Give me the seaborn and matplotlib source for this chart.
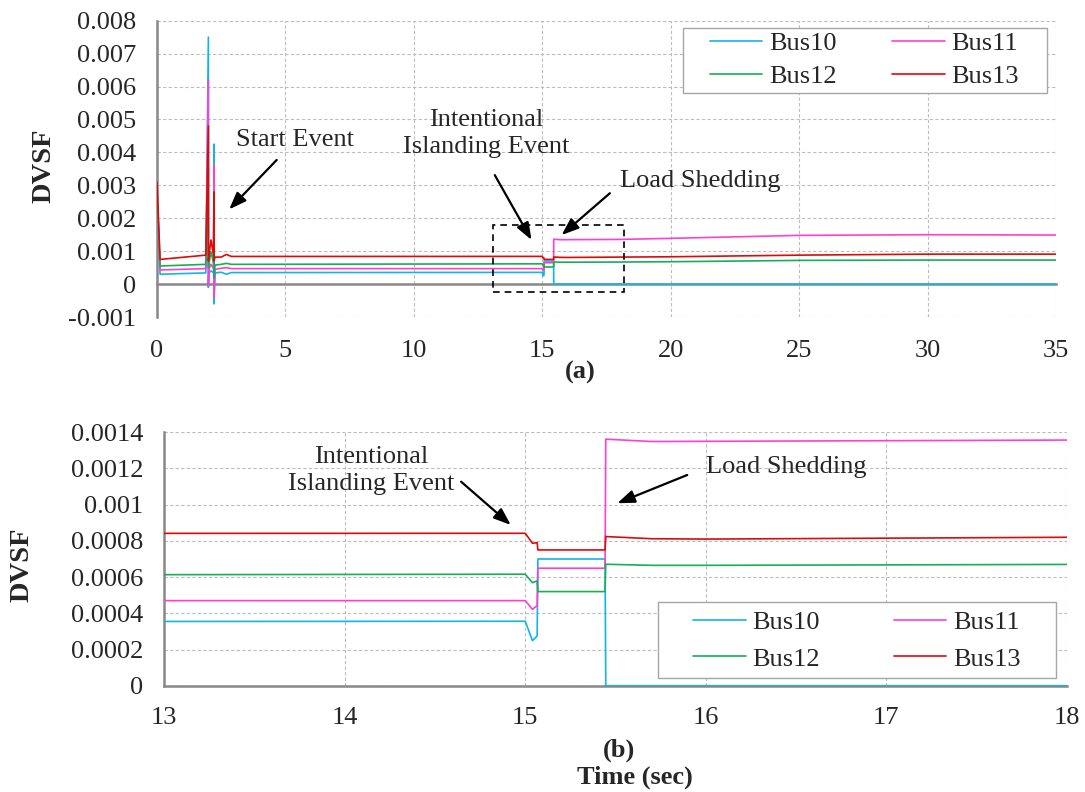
import numpy as np
import pandas as pd
import matplotlib
matplotlib.use("Agg")
import matplotlib.pyplot as plt
import matplotlib.patches as mpatches
import seaborn as sns

# DVSF of the four buses (sec, value)
time = [0.0, 0.12, 1.9, 2.0, 2.0, 2.02, 2.1, 2.2, 2.22, 2.22, 2.26, 2.5, 2.7, 2.9,
        15.0, 15.04, 15.066, 15.07, 15.442, 15.446, 15.7, 16.0, 18.0, 20.0, 25.0, 30.0, 35.0]
bus10 = [0.0025, 0.0003, 0.00034, 0.0075, -0.0001, 0.00034, 0.0004, 0.00035, 0.00425, -0.0006,
         0.00034, 0.00036, 0.0003, 0.00035, 0.000356, 0.000249, 0.000275, 0.0007, 0.0007,
         0.0, 0.0, 0.0, 0.0, 0.0, 0.0, 0.0, 0.0]
bus11 = [0.0027, 0.00043, 0.00047, 0.0062, -0.00005, 0.00045, 0.0006, 0.00048, 0.0036, -0.0004,
         0.00045, 0.00048, 0.0005, 0.00047, 0.00047, 0.000422, 0.000442, 0.000649, 0.000649,
         0.001362, 0.001349, 0.00135, 0.001357, 0.00139, 0.00148, 0.0015, 0.00149]
bus12 = [0.0029, 0.00055, 0.0006, 0.0035, 0.0005, 0.0006, 0.00098, 0.00065, 0.002, 0.0002,
         0.00058, 0.0006, 0.00063, 0.0006, 0.000616, 0.000569, 0.000579, 0.00052, 0.00052,
         0.000671, 0.000665, 0.000665, 0.00067, 0.00068, 0.00072, 0.00073, 0.00073]
bus13 = [0.0031, 0.00075, 0.00088, 0.0048, 0.0007, 0.00085, 0.00134, 0.0009, 0.0028, 0.0007,
         0.00082, 0.00082, 0.0009, 0.00084, 0.000842, 0.000787, 0.00079, 0.00075, 0.00075,
         0.000824, 0.000812, 0.00081, 0.00082, 0.00083, 0.00088, 0.00091, 0.00091]

bus_names = ["Bus10", "Bus11", "Bus12", "Bus13"]
bus_colors = ["#12B4EC", "#FF3FD2", "#17AF55", "#DE0A0A"]

top_xticks = [0, 5, 10, 15, 20, 25, 30, 35]
top_yticks = [-0.001, 0, 0.001, 0.002, 0.003, 0.004, 0.005, 0.006, 0.007, 0.008]
bot_xticks = [13, 14, 15, 16, 17, 18]
bot_yticks = [0, 0.0002, 0.0004, 0.0006, 0.0008, 0.001, 0.0012, 0.0014]

df = pd.concat(
    [pd.DataFrame({"Time": time, "DVSF": vals, "Bus": name})
     for name, vals in zip(bus_names, [bus10, bus11, bus12, bus13])],
    ignore_index=True)

sns.set_theme(style="white")
plt.rcParams["font.family"] = ["Liberation Serif", "DejaVu Serif"]

W, H = 1085, 792
fig = plt.figure(figsize=(W / 100, H / 100), dpi=100)
ax1 = fig.add_axes([0.1447, 0.5997, 0.8286, 0.3742])
ax2 = fig.add_axes([0.1512, 0.1342, 0.8322, 0.3200])

grid_kw = dict(color="#bdbdbd", linestyle=(0, (3, 2)), linewidth=0.8)
spine_col = "#888888"

for ax in (ax1, ax2):
    sns.lineplot(data=df, x="Time", y="DVSF", hue="Bus", palette=bus_colors,
                 estimator=None, sort=False, lw=1.2, ax=ax, zorder=3)
    ax.grid(True, **grid_kw)
    ax.set_axisbelow(True)
    for s in ("top", "right"):
        ax.spines[s].set_visible(False)
    for s in ("left", "bottom"):
        ax.spines[s].set_color(spine_col)
        ax.spines[s].set_linewidth(1.8)
    ax.set_xlabel("")
    ax.set_ylabel("")


def excel_legend(ax, box, center, colspace, rowspace):
    # legend box in pixel coords (x0, y0, x1, y1 from the top-left)
    h, l = ax.get_legend_handles_labels()
    order = [0, 2, 1, 3]  # row-wise: Bus10 Bus11 / Bus12 Bus13
    leg = ax.legend([h[i] for i in order], [l[i] for i in order], ncol=2, loc="center",
                    bbox_to_anchor=(center[0] / W, 1 - center[1] / H),
                    bbox_transform=fig.transFigure, frameon=False, fontsize=19,
                    handlelength=2.0, handletextpad=0.25, columnspacing=colspace,
                    labelspacing=rowspace, borderpad=0)
    leg.set_zorder(6)
    x0, y0, x1, y1 = box
    ax.add_patch(mpatches.Rectangle((x0 / W, 1 - y1 / H), (x1 - x0) / W, (y1 - y0) / H,
                                    transform=fig.transFigure, facecolor="white",
                                    edgecolor="#a6a6a6", lw=1.0, clip_on=False, zorder=5))


arrow_kw = dict(arrowstyle="-|>,head_length=0.8,head_width=0.3", color="black",
                lw=1.6, mutation_scale=13, shrinkA=0, shrinkB=0)

# top panel
ax1.set_xlim(0, 35)
ax1.set_ylim(-0.001, 0.008)
ax1.set_xticks(top_xticks)
ax1.set_yticks(top_yticks)
ax1.set_yticklabels(["{:g}".format(v) for v in top_yticks])
ax1.spines["bottom"].set_position(("data", 0))
ax1.tick_params(axis="x", direction="out", length=5, width=1.2, color=spine_col,
                labelsize=19, pad=35)
ax1.tick_params(axis="y", direction="out", length=6, width=1.2, color=spine_col,
                labelsize=19, pad=9)
excel_legend(ax1, (683, 28, 1047, 93), (864.2, 60), 2.1, 0.35)

ax1.text(5.37, 0.00437, "Start Event", fontsize=19, ha="center", va="center")
ax1.annotate("", xy=(2.81, 0.00227), xytext=(4.66, 0.00377), arrowprops=arrow_kw)
ax1.text(12.83, 0.00458, "Intentional\nIslanding Event", fontsize=19, ha="center",
         va="center", linespacing=1.3)
ax1.annotate("", xy=(14.58, 0.00134), xytext=(13.15, 0.00331), arrowprops=arrow_kw)
ax1.text(21.13, 0.00313, "Load Shedding", fontsize=19, ha="center", va="center")
ax1.annotate("", xy=(15.75, 0.00149), xytext=(17.63, 0.00276), arrowprops=arrow_kw)
ax1.add_patch(mpatches.Rectangle((13.09, -0.00023), 5.09, 0.00202, fill=False,
                                 edgecolor="black", linestyle=(0, (4, 3)), lw=1.2, zorder=4))

# bottom panel
ax2.set_xlim(13, 18)
ax2.set_ylim(0, 0.0014)
ax2.set_xticks(bot_xticks)
ax2.set_yticks(bot_yticks)
ax2.set_yticklabels(["{:g}".format(v) for v in bot_yticks])
ax2.tick_params(axis="x", direction="out", length=6, width=1.2, color=spine_col,
                labelsize=19, pad=9)
ax2.tick_params(axis="y", direction="out", length=6, width=1.2, color=spine_col,
                labelsize=19, pad=9)
excel_legend(ax2, (657.6, 602, 1056, 678), (856.7, 640.5), 2.8, 0.5)

ax2.text(14.147, 0.00119, "Intentional\nIslanding Event", fontsize=19, ha="center",
         va="center", linespacing=1.3)
ax2.annotate("", xy=(14.92, 0.000888), xytext=(14.645, 0.001127), arrowprops=arrow_kw)
ax2.text(16.448, 0.001208, "Load Shedding", fontsize=19, ha="center", va="center")
ax2.annotate("", xy=(15.51, 0.001008), xytext=(15.897, 0.001164), arrowprops=arrow_kw)

# axis titles
fig.text(44 / W, 1 - 165.5 / H, "DVSF", rotation=90, fontsize=20.5,
         fontweight="bold", ha="center", va="center")
fig.text(21.7 / W, 1 - 564.5 / H, "DVSF", rotation=90, fontsize=20.5,
         fontweight="bold", ha="center", va="center")
fig.text(580 / W, 1 - 372 / H, "(a)", fontsize=19, fontweight="bold",
         ha="center", va="center")
fig.text(619.4 / W, 1 - 750 / H, "(b)", fontsize=19, fontweight="bold",
         ha="center", va="center")
fig.text(634.6 / W, 1 - 777.7 / H, "Time (sec)", fontsize=19, fontweight="bold",
         ha="center", va="center")

fig.savefig("out.png", dpi=100)
